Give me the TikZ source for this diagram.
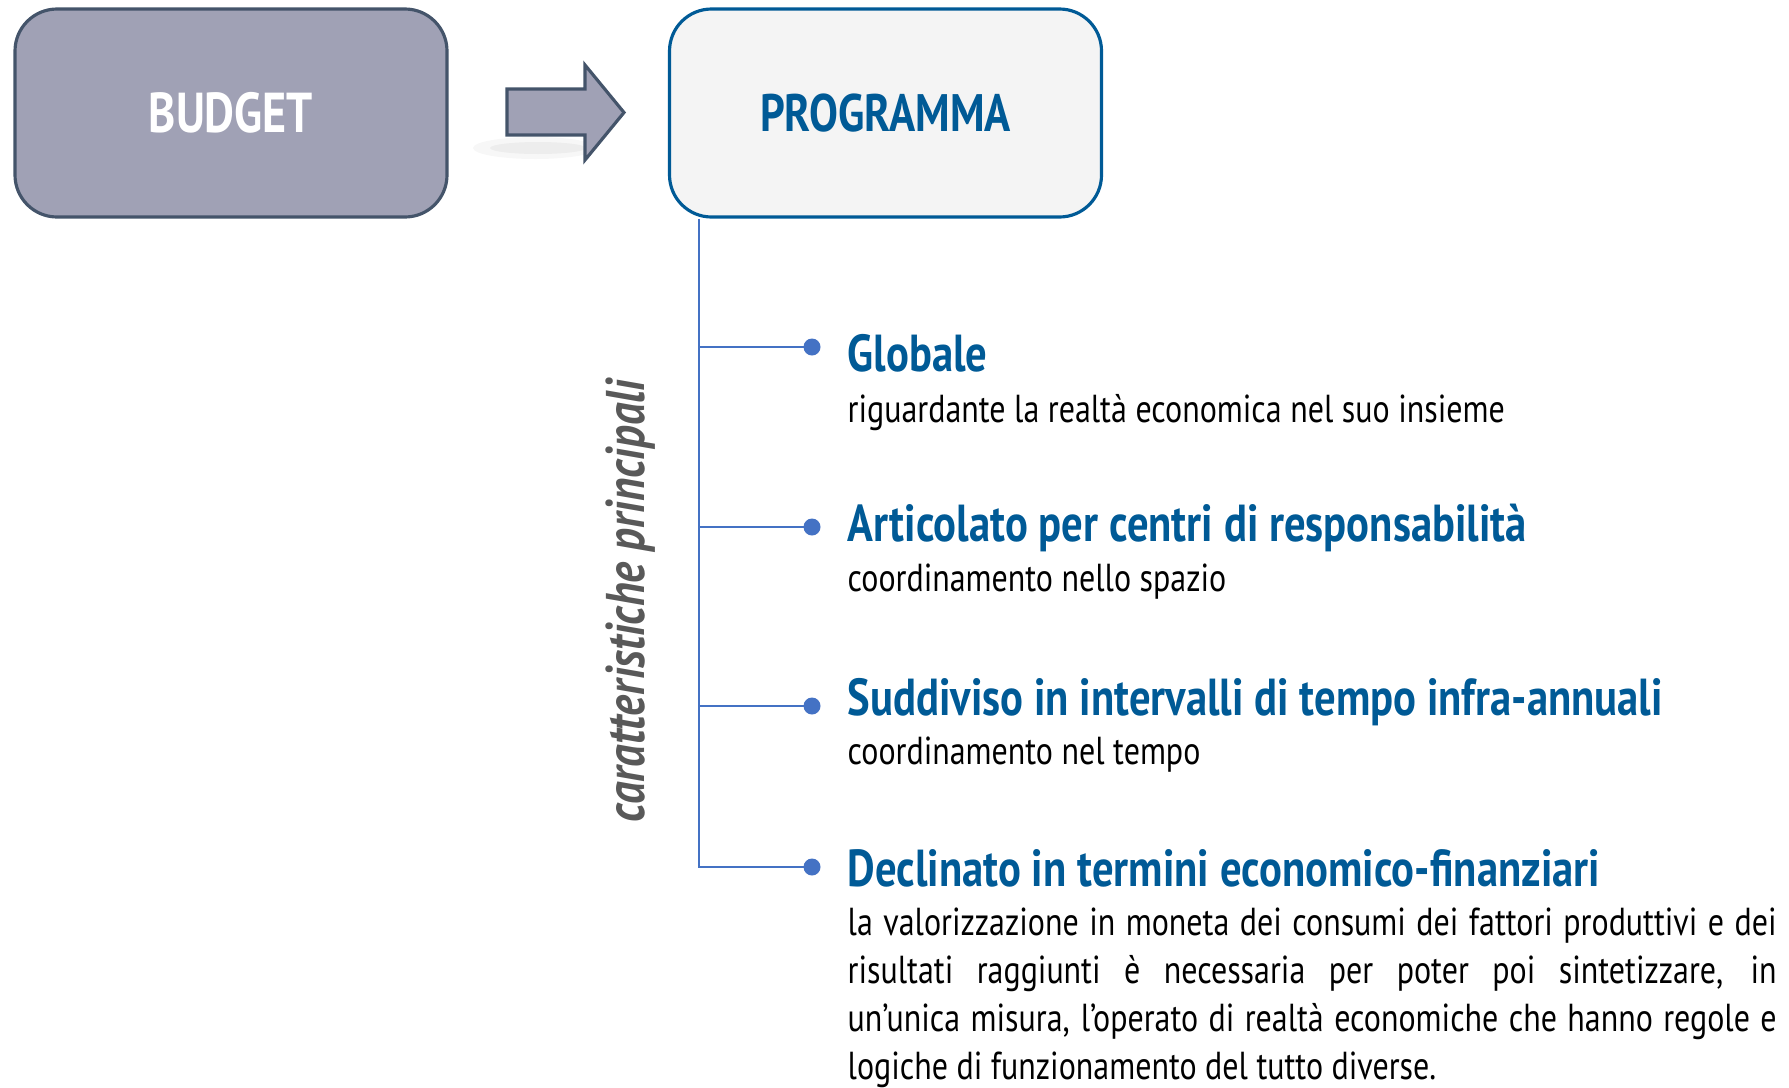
\documentclass[tikz,border=0pt]{standalone}
\usepackage{fontspec}
\setmainfont{PT Sans}[FakeStretch=0.82]
\usepackage{tikz}
\usetikzlibrary{positioning,calc}
\definecolor{grigiobudget}{RGB}{160,161,181}
\definecolor{bordoscuro}{RGB}{68,84,106}
\definecolor{bluprog}{RGB}{0,90,150}
\definecolor{fondoprog}{RGB}{244,244,244}
\definecolor{bluramo}{RGB}{68,114,196}
\definecolor{grigiolato}{RGB}{89,89,89}

\begin{document}
\begin{tikzpicture}[x=0.1mm,y=-0.1mm,
    box/.style={rectangle,rounded corners=4.2mm,line width=0.9pt,minimum width=43.2mm,minimum height=20.8mm},
    ramo/.style={draw=bluramo,line width=0.8pt},
    punto/.style={circle,fill=bluramo,inner sep=0pt,minimum size=1.7mm},
    titolo/.style={anchor=base west,inner sep=0pt,text=bluprog,font=\fontsize{14.8pt}{16pt}\selectfont\bfseries},
    testo/.style={anchor=base west,inner sep=0pt,font=\fontsize{11.1pt}{13.66pt}\selectfont}]
\useasboundingbox (0,0) rectangle (1789,1087);

% boxes
\node (budget) [box,draw=bordoscuro,fill=grigiobudget,text=white,
    font=\fontsize{16pt}{18pt}\selectfont\bfseries] at (231,113) {BUDGET};
\node (prog) [box,draw=bluprog,fill=fondoprog,text=bluprog,
    font=\fontsize{15pt}{17pt}\selectfont\bfseries] at (885.5,113) {PROGRAMMA};

% arrow with its shadow
\fill[black,opacity=0.03] (535,148) ellipse (62 and 11);
\fill[black,opacity=0.04] (538,148) ellipse (48 and 6);
\draw[bordoscuro,fill=grigiobudget,line width=0.9pt,line join=miter]
    (507,89) -- (585,89) -- (585,65) -- (624,112.5) -- (585,160) -- (585,135) -- (507,135) -- cycle;

% tree
\coordinate (tronco) at ($(prog.south west)+(31,0)$);
\node (p1) [punto] at (812,347) {};
\node (p2) [punto] at (812,527) {};
\node (p3) [punto] at (812,706) {};
\node (p4) [punto] at (812,867) {};
\draw[ramo] (tronco) |- (p4.center);
\foreach \p in {p1,p2,p3}
  \draw[ramo] (tronco |- \p) -- (\p.center);

\node (lato) [rotate=90,text=grigiolato,font=\fontsize{15.5pt}{17pt}\selectfont\bfseries\itshape] at (631,601) {caratteristiche principali};

% items
\node (t1) [titolo] at (847,371) {Globale};
\node (s1) [testo] at (847,422) {riguardante la realtà economica nel suo insieme};
\node (t2) [titolo] at (847,541) {Articolato per centri di responsabilità};
\node (s2) [testo] at (847,591) {coordinamento nello spazio};
\node (t3) [titolo] at (847,715) {Suddiviso in intervalli di tempo infra-annuali};
\node (s3) [testo] at (847,764) {coordinamento nel tempo};
\node (t4) [titolo] at (847,886) {Declinato in termini economico-finanziari};
\node (s4) [testo,text width=92.9mm,align=justify] at (847,935)
  {\hyphenpenalty=10000 la valorizzazione in moneta dei consumi dei fattori produttivi e dei\linebreak
   risultati raggiunti è necessaria per poter poi sintetizzare, in\linebreak
   un’unica misura, l’operato di realtà economiche che hanno regole e\linebreak
   logiche di funzionamento del tutto diverse.};
\end{tikzpicture}
\end{document}
